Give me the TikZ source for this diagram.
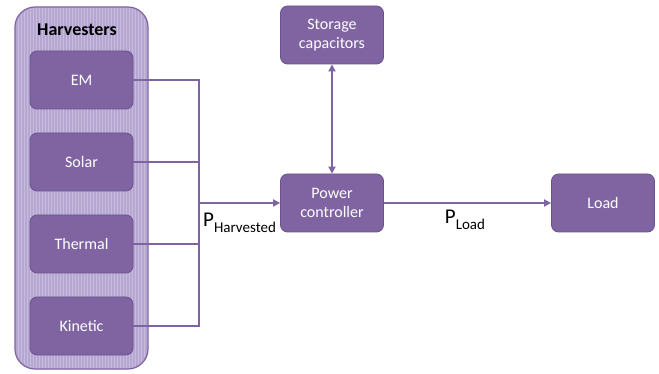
\documentclass[tikz,border=0pt]{standalone}
\usepackage{fontspec}
\setmainfont{Carlito}
\usetikzlibrary{arrows.meta,patterns}
\definecolor{boxfill}{HTML}{8064A2}
\definecolor{boxline}{HTML}{6A5290}
\definecolor{outerfill}{HTML}{B6A6D2}
\definecolor{outerline}{HTML}{8064A2}
\definecolor{wire}{HTML}{8064A2}
\tikzset{
  x=1pt,y=-1pt,
  blk/.style={draw=boxline,fill=boxfill,rounded corners=7pt,line width=0.8pt,
    minimum width=103pt,minimum height=58pt,text=white,align=center,
    font=\fontsize{16}{19}\selectfont,inner sep=0pt},
  wireline/.style={draw=wire,line width=2.4pt},
  arr/.style={wireline,-{Triangle[length=7pt,width=7pt]}},
  plabel/.style={font=\fontsize{21}{23}\selectfont,inner sep=0pt}
}
\begin{document}
\begin{tikzpicture}
\useasboundingbox (0,0) rectangle (659,374);
\fill[white] (0,0) rectangle (659,374);
\draw[fill=outerfill,draw=outerline,line width=1.2pt,rounded corners=20pt] (15,7) rectangle (148,369);
\fill[pattern=vertical lines,pattern color=outerfill!75!white,rounded corners=20pt] (16,8) rectangle (147,368);
\node[font=\bfseries\fontsize{18}{21}\selectfont] (title) at (77,30) {Harvesters};
\node[blk] (em) at (81.5,80) {EM};
\node[blk] (solar) at (81.5,162) {Solar};
\node[blk] (thermal) at (81.5,244) {Thermal};
\node[blk] (kinetic) at (81.5,326) {Kinetic};
\node[blk] (storage) at (332,35) {Storage\\capacitors};
\node[blk] (pc) at (332,203) {Power\\controller};
\node[blk] (load) at (603,203) {Load};
\coordinate (btop) at (199,80);
\coordinate (bbot) at (199,326);
\coordinate (bmid) at (199,203);
\draw[wireline] (em.east) -- (btop) -- (bbot) -- (kinetic.east);
\draw[wireline] (solar.east) -- (199,162);
\draw[wireline] (thermal.east) -- (199,244);
\draw[arr] (bmid) -- (pc.west);
\draw[wireline,{Triangle[length=7pt,width=7pt]}-{Triangle[length=7pt,width=7pt]}] (storage.south) -- (pc.north);
\draw[arr] (pc.east) -- (load.west);
\node[plabel,anchor=west] (ph) at (203,223) {P\raisebox{-0.3em}{\fontsize{15}{17}\selectfont Harvested}};
\node[plabel] (pl) at (465,220) {P\raisebox{-0.3em}{\fontsize{15}{17}\selectfont Load}};
\end{tikzpicture}
\end{document}
